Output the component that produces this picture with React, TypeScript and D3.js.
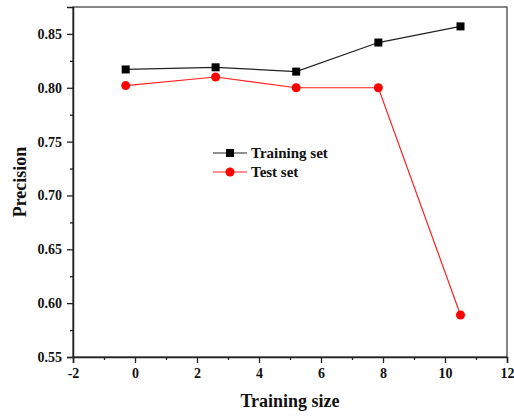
import React, { useRef, useEffect } from 'react';
import * as d3 from 'd3';

const sizes = [-0.3, 2.6, 5.2, 7.85, 10.5];
const trainingSet = [0.817, 0.819, 0.815, 0.842, 0.857];
const testSet = [0.802, 0.81, 0.8, 0.8, 0.589];
const xTicks = [-2, 0, 2, 4, 6, 8, 10, 12];
const yTicks = [0.55, 0.6, 0.65, 0.7, 0.75, 0.8, 0.85];

const App = () => {
  const svgRef = useRef<SVGSVGElement>(null);

  useEffect(() => {
    const width = 514;
    const height = 416;
    const m = { left: 73, top: 7, right: 7, bottom: 59 };
    const svg = d3.select(svgRef.current).attr('width', width).attr('height', height);
    svg.selectAll('*').remove();

    const x = d3.scaleLinear().domain([-2, 12]).range([m.left, width - m.right]);
    const y = d3.scaleLinear().domain([0.55, 0.875]).range([height - m.bottom, m.top]);
    const font = '"Liberation Serif", "Times New Roman", serif';

    // frame
    svg.append('rect')
      .attr('x', x(-2)).attr('y', y(0.875))
      .attr('width', x(12) - x(-2)).attr('height', y(0.55) - y(0.875))
      .attr('fill', 'none').attr('stroke', '#444').attr('stroke-width', 1.3);

    const xAxis = d3.axisBottom(x).tickValues(xTicks).tickFormat(d => String(d)).tickSize(6).tickPadding(5);
    const gx = svg.append('g').attr('transform', `translate(0,${y(0.55)})`).call(xAxis);
    svg.append('g').attr('transform', `translate(0,${y(0.55)})`)
      .call(d3.axisBottom(x).tickValues(d3.range(-1, 12, 2)).tickFormat(() => '').tickSize(3))
      .select('.domain').remove();

    const yAxis = d3.axisLeft(y).tickValues(yTicks).tickFormat(d3.format('.2f')).tickSize(6).tickPadding(5);
    const gy = svg.append('g').attr('transform', `translate(${x(-2)},0)`).call(yAxis);
    svg.append('g').attr('transform', `translate(${x(-2)},0)`)
      .call(d3.axisLeft(y).tickValues([0.575, 0.625, 0.675, 0.725, 0.775, 0.825]).tickFormat(() => '').tickSize(3))
      .select('.domain').remove();

    [gx, gy].forEach(g => {
      g.select('.domain').attr('stroke', '#222').attr('stroke-width', 1.5);
      g.selectAll('.tick text')
        .style('font-family', font).style('font-weight', 'bold')
        .style('font-size', '14px').attr('fill', '#111');
    });
    svg.selectAll('.tick line').attr('stroke', '#222').attr('stroke-width', 1.3);

    const line = d3.line<number>().x((d, i) => x(sizes[i])).y(d => y(d));

    svg.append('path').datum(trainingSet).attr('d', line)
      .attr('fill', 'none').attr('stroke', '#222').attr('stroke-width', 1.2);
    svg.append('path').datum(testSet).attr('d', line)
      .attr('fill', 'none').attr('stroke', '#ff2020').attr('stroke-width', 1.2);

    svg.selectAll('.sq').data(trainingSet).enter().append('rect')
      .attr('x', (d, i) => x(sizes[i]) - 4).attr('y', d => y(d) - 4)
      .attr('width', 8).attr('height', 8).attr('fill', '#000');
    svg.selectAll('.ci').data(testSet).enter().append('circle')
      .attr('cx', (d, i) => x(sizes[i])).attr('cy', d => y(d))
      .attr('r', 4.5).attr('fill', '#ff0000');

    // legend
    const lg = svg.append('g').attr('transform', 'translate(213,153)');
    lg.append('line').attr('x1', 0).attr('x2', 34).attr('y1', 0).attr('y2', 0).attr('stroke', '#222').attr('stroke-width', 1.2);
    lg.append('rect').attr('x', 13).attr('y', -4).attr('width', 8).attr('height', 8).attr('fill', '#000');
    lg.append('text').attr('x', 38).attr('y', 5).text('Training set')
      .style('font-family', font).style('font-weight', 'bold').style('font-size', '15px').attr('fill', '#111');
    lg.append('line').attr('x1', 0).attr('x2', 34).attr('y1', 19).attr('y2', 19).attr('stroke', '#ff2020').attr('stroke-width', 1.2);
    lg.append('circle').attr('cx', 17).attr('cy', 19).attr('r', 4.5).attr('fill', '#ff0000');
    lg.append('text').attr('x', 38).attr('y', 24).text('Test set')
      .style('font-family', font).style('font-weight', 'bold').style('font-size', '15px').attr('fill', '#111');

    svg.append('text').attr('x', 290).attr('y', 407).attr('text-anchor', 'middle')
      .style('font-family', font).style('font-weight', 'bold').style('font-size', '18px').attr('fill', '#111')
      .text('Training size');
    svg.append('text').attr('transform', `translate(26,${(y(0.55) + y(0.875)) / 2}) rotate(-90)`)
      .attr('text-anchor', 'middle')
      .style('font-family', font).style('font-weight', 'bold').style('font-size', '18px').attr('fill', '#111')
      .text('Precision');
  }, []);

  return <svg ref={svgRef} style={{ position: 'absolute', left: 0, top: 0 }}></svg>;
};

export default App;
